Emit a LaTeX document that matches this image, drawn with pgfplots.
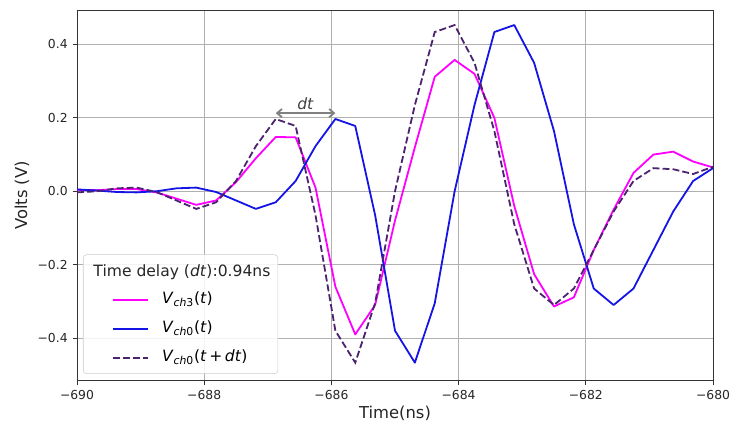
\documentclass[border=0pt]{standalone}
\usepackage{fontspec}
\setmainfont{DejaVu Sans}
\usepackage{pgfplots}
\pgfplotsset{compat=1.18}
\usepackage{pgfplotstable}
\usetikzlibrary{arrows.meta}
\definecolor{cmag}{RGB}{255,0,255}
\definecolor{cblue}{RGB}{20,20,230}
\definecolor{cdash}{RGB}{75,35,110}
\definecolor{gridc}{RGB}{176,176,176}

\pgfplotstableread{
t v
-690 0.004
-689.6875 0.003
-689.375 0.006
-689.0625 0.006
-688.75 -0.003
-688.4375 -0.020
-688.125 -0.037
-687.8125 -0.025
-687.5 0.025
-687.1875 0.090
-686.875 0.148
-686.5625 0.147
-686.25 0.010
-685.9375 -0.260
-685.625 -0.390
-685.3125 -0.310
-685 -0.080
-684.6875 0.120
-684.375 0.312
-684.0625 0.358
-683.75 0.320
-683.4375 0.200
-683.125 -0.040
-682.8125 -0.226
-682.5 -0.314
-682.1875 -0.289
-681.875 -0.160
-681.5625 -0.050
-681.25 0.050
-680.9375 0.100
-680.625 0.108
-680.3125 0.081
-680 0.065
}\chthree

\pgfplotstableread{
t v
-690 0.005
-689.6875 0.002
-689.375 -0.002
-689.0625 -0.003
-688.75 0.000
-688.4375 0.008
-688.125 0.010
-687.8125 -0.002
-687.5 -0.025
-687.1875 -0.048
-686.875 -0.030
-686.5625 0.028
-686.25 0.123
-685.9375 0.197
-685.625 0.178
-685.3125 -0.065
-685 -0.380
-684.6875 -0.467
-684.375 -0.305
-684.0625 0.000
-683.75 0.235
-683.4375 0.434
-683.125 0.453
-682.8125 0.350
-682.5 0.164
-682.1875 -0.090
-681.875 -0.265
-681.5625 -0.310
-681.25 -0.265
-680.9375 -0.160
-680.625 -0.055
-680.3125 0.028
-680 0.063
-679.6875 0.060
-679.375 0.047
-679.0625 0.067
}\chzero

\pgfplotstableread{
t v
-690 -0.003
-689.6875 0.000
-689.375 0.008
-689.0625 0.010
-688.75 -0.002
-688.4375 -0.025
-688.125 -0.048
-687.8125 -0.030
-687.5 0.028
-687.1875 0.123
-686.875 0.197
-686.5625 0.178
-686.25 -0.065
-685.9375 -0.380
-685.625 -0.467
-685.3125 -0.305
-685 0.000
-684.6875 0.235
-684.375 0.434
-684.0625 0.453
-683.75 0.350
-683.4375 0.164
-683.125 -0.090
-682.8125 -0.265
-682.5 -0.310
-682.1875 -0.265
-681.875 -0.160
-681.5625 -0.055
-681.25 0.028
-680.9375 0.063
-680.625 0.060
-680.3125 0.047
-680 0.067
}\chzeroshift

\begin{document}
\begin{tikzpicture}
\begin{axis}[
  scale only axis,
  width=457.9pt, height=267.1pt,
  xmin=-690, xmax=-680, ymin=-0.517, ymax=0.494,
  xtick={-690,-688,-686,-684,-682,-680},
  xticklabels={−690,−688,−686,−684,−682,−680},
  ytick={-0.4,-0.2,0,0.2,0.4},
  yticklabels={−0.4,−0.2,0.0,0.2,0.4},
  tick label style={font=\fontsize{8.9}{10}\selectfont, text=black!85},
  xtick pos=bottom, ytick pos=left,
  tick align=outside, major tick length=3.2pt,
  tick style={black!80, line width=0.72pt},
  axis line style={black!80, line width=0.72pt},
  grid=major, major grid style={gridc, line width=0.72pt},
  xlabel={Time(ns)}, ylabel={Volts (V)},
  label style={font=\fontsize{11.8}{14}\selectfont, text=black!85},
  xlabel style={at={(axis description cs:0.5,-0.086)}, anchor=center},
  ylabel style={at={(axis description cs:-0.0865,0.5)}, anchor=center},
  legend cell align=left,
  legend style={at={(axis description cs:0.0094,0.0189)}, anchor=south west,
    draw={rgb,255:red,204;green,204;blue,204}, fill=white, fill opacity=0.85,
    text opacity=1, rounded corners=2.5pt,
    font=\fontsize{11.2}{13}\selectfont,
    inner xsep=20.8pt, inner ysep=5.5pt, row sep=8.9pt,
    nodes={inner sep=0pt, text height=9pt, text depth=3pt},
    column sep=0pt},
  legend image code/.code={\draw[#1] (0pt,0pt) -- (25.2pt,0pt);},
]
\addlegendimage{empty legend}
\addlegendentry{\hspace*{72pt}}
\addplot[cmag, line width=1.3pt, line join=round] table[x=t,y=v]{\chthree};
\addlegendentry{\hspace*{9.4pt}\textit{V}\textsubscript{\textit{ch}3}(\textit{t})}
\addplot[cblue, line width=1.3pt, line join=round] table[x=t,y=v]{\chzero};
\addlegendentry{\hspace*{9.4pt}\textit{V}\textsubscript{\textit{ch}0}(\textit{t})}
\addplot[cdash, line width=1.3pt, dash pattern=on 5pt off 2.2pt] table[x=t,y=v]{\chzeroshift};
\addlegendentry{\hspace*{9.4pt}\textit{V}\textsubscript{\textit{ch}0}(\textit{t}\,+\,\textit{dt})}
\draw[{Straight Barb[length=3.5pt,width=6pt]}-{Straight Barb[length=3.5pt,width=6pt]}, black!50, line width=1.3pt]
  (axis cs:-686.875,0.213) -- (axis cs:-685.9375,0.213);
\node[font=\fontsize{11.2}{13}\selectfont\itshape, text=black!75] at (axis cs:-686.41,0.24) {dt};
\coordinate (SW) at (rel axis cs:0,0);
\coordinate (NE) at (rel axis cs:1,1);
\coordinate (TTL) at (axis description cs:0.165,0.2938);
\end{axis}
\node[font=\fontsize{11.2}{13}\selectfont, text=black!85] at (TTL) {Time delay (\textit{dt}):0.94ns};
\pgfresetboundingbox
\path[use as bounding box] ([xshift=-55.44pt,yshift=-30.96pt]SW) rectangle ([xshift=13.68pt,yshift=7.2pt]NE);
\end{tikzpicture}
\end{document}
